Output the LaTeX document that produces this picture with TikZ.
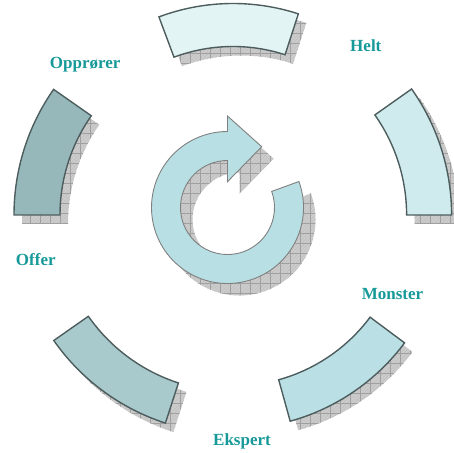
\documentclass[tikz,border=0pt]{standalone}
\usepackage{fontspec}
\setmainfont{Liberation Serif}
\usetikzlibrary{patterns.meta}
\definecolor{lbltext}{RGB}{23,153,153}
\definecolor{segline}{RGB}{77,93,94}
\definecolor{arrline}{RGB}{128,128,128}
\definecolor{cTop}{RGB}{227,244,244}
\definecolor{cRight}{RGB}{208,235,238}
\definecolor{cBR}{RGB}{186,224,229}
\definecolor{cBL}{RGB}{168,202,205}
\definecolor{cLeft}{RGB}{151,184,186}
\definecolor{cArrow}{RGB}{184,224,228}
\definecolor{shbase}{RGB}{204,204,204}
\definecolor{shgrid}{RGB}{160,160,160}
\definecolor{shfine}{RGB}{185,185,185}
\tikzset{
  shadowbase/.style={fill=shbase},
  shadowf/.style={pattern={Lines[angle=45,distance=2.5pt,line width=0.3pt]},pattern color=shfine},
  shadowh/.style={pattern={Lines[angle=0,distance=10pt,line width=0.5pt]},pattern color=shgrid},
  shadowv/.style={pattern={Lines[angle=90,distance=10pt,line width=0.5pt]},pattern color=shgrid},
  segstyle/.style={draw=segline,line width=1.4pt,line join=miter},
  arrstyle/.style={draw=arrline,line width=0.9pt,line join=miter,fill=cArrow},
  lbl/.style={text=lbltext,font=\fontsize{17}{20}\selectfont\bfseries,anchor=base}
}
\newcommand\mkseg[5]{%
  \begin{scope}[shift={(8,-9)}]
    \foreach \sty in {shadowbase,shadowf,shadowh,shadowv}{
      \path[\sty] (#2:#4pt) arc[start angle=#2,end angle=#3,radius=#4pt] -- (#3:#5pt) arc[start angle=#3,end angle=#2,radius=#5pt] -- cycle;
    }
  \end{scope}
  \draw[segstyle,fill=#1] (#2:#4pt) arc[start angle=#2,end angle=#3,radius=#4pt] -- (#3:#5pt) arc[start angle=#3,end angle=#2,radius=#5pt] -- cycle;
}
\newcommand\mkarrow[1]{%
  \path[#1] (20:76pt) arc[start angle=20,end angle=-270,radius=76pt] -- (0,91.5) -- (34.2,60.8) -- (0,25.8) -- (0,47) arc[start angle=90,end angle=380,radius=47pt] -- cycle;
}
\begin{document}
\begin{tikzpicture}[x=1pt,y=1pt]
\useasboundingbox (0,0) rectangle (453,453);
% ring segments
\begin{scope}[shift={(233,238)}]
  \mkseg{cTop}{72}{110.5}{211.5}{168.5}
  \mkseg{cRight}{0}{35.2}{218.6}{173.6}
  \mkseg{cBR}{-74.5}{-36.7}{214}{171}
  \mkseg{cBL}{215}{252}{218.8}{176.6}
  \mkseg{cLeft}{145}{180}{219}{173}
\end{scope}
% circular arrow
\begin{scope}[shift={(239.5,233.5)}]
  \mkarrow{shadowbase}
  \mkarrow{shadowf}
  \mkarrow{shadowh}
  \mkarrow{shadowv}
\end{scope}
\begin{scope}[shift={(227.5,245.5)}]
  \mkarrow{arrstyle}
\end{scope}
% labels
\node[lbl] (opp) at (85.2,384.7) {Opprører};
\node[lbl] (helt) at (365.8,401.3) {Helt};
\node[lbl] (mon) at (392.5,153.3) {Monster};
\node[lbl] (eks) at (242,7) {Ekspert};
\node[lbl] (off) at (35.8,187.7) {Offer};
\end{tikzpicture}
\end{document}
